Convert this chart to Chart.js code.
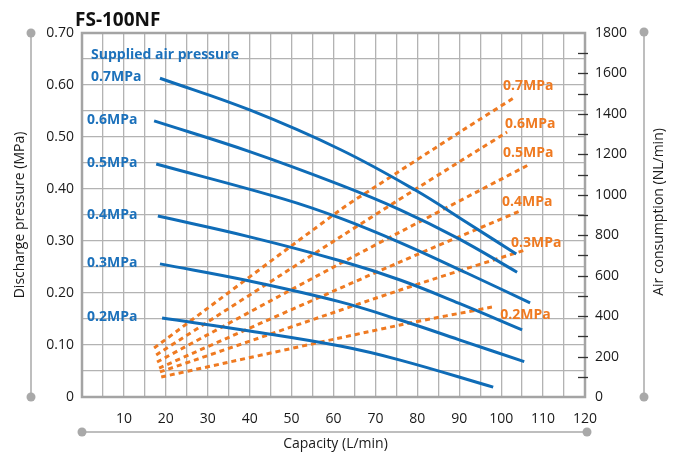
<!DOCTYPE html>
<html>
<head>
<meta charset="utf-8">
<script src="https://cdn.jsdelivr.net/npm/chart.js@4.4.1/dist/chart.umd.min.js"></script>
<style>
  html, body { margin: 0; padding: 0; background: #fff; }
  canvas { display: block; }
</style>
</head>
<body>
<canvas id="chart" width="681" height="458"></canvas>
<script>
const pressureLabels = ['0.7MPa', '0.6MPa', '0.5MPa', '0.4MPa', '0.3MPa', '0.2MPa'];

// discharge pressure curves: capacity (L/min) -> discharge pressure (MPa)
const dischargeCapacity = [
  [18.6, 40, 61.6, 79.5, 91.9, 103.6],
  [17.2, 40, 61.6, 75.9, 89.5, 103.8],
  [17.7, 48, 61.6, 75.9, 91.9, 106.9],
  [18.1, 40, 61.6, 75.9, 90, 105],
  [18.6, 40, 61.6, 75.9, 90, 105.5],
  [19.1, 40, 61.6, 75.9, 98.1]
];
const dischargePressure = [
  [0.613, 0.552, 0.476, 0.398, 0.335, 0.275],
  [0.531, 0.472, 0.408, 0.360, 0.306, 0.240],
  [0.448, 0.381, 0.344, 0.297, 0.238, 0.181],
  [0.348, 0.308, 0.262, 0.225, 0.180, 0.129],
  [0.256, 0.223, 0.183, 0.148, 0.110, 0.068],
  [0.152, 0.127, 0.098, 0.071, 0.019]
];

// air consumption lines: capacity (L/min) -> air consumption (NL/min)
const airCapacity = [
  [17.2, 61.6, 69.5, 90.9, 103.3],
  [17.7, 61.6, 80, 101.4],
  [17.9, 61.6, 106.9],
  [18.4, 75.9, 104.5],
  [18.6, 75.9, 105.7],
  [18.9, 75.9, 97.9]
];
const airConsumption = [
  [242, 925, 1033, 1320, 1483],
  [208, 791, 1033, 1310],
  [173, 660, 1152],
  [143, 668, 920],
  [124, 529, 727],
  [99, 356, 445]
];

const BLUE = '#0f6cb7';
const ORANGE = '#ef7a21';
const GRID = '#b3b3b3';
const DECO = '#a9a9a9';
const FONT = '"Open Sans", "Noto Sans", sans-serif';

const toPoints = (xs, ys) => xs.map((x, i) => ({ x: x, y: ys[i] }));

const datasets = [];
pressureLabels.forEach((label, i) => {
  datasets.push({
    label: 'Discharge ' + label,
    data: toPoints(dischargeCapacity[i], dischargePressure[i]),
    yAxisID: 'y',
    showLine: true,
    borderColor: BLUE,
    borderWidth: 3,
    pointRadius: 0,
    tension: 0.4
  });
});
pressureLabels.forEach((label, i) => {
  datasets.push({
    label: 'Air ' + label,
    data: toPoints(airCapacity[i], airConsumption[i]),
    yAxisID: 'y2',
    showLine: true,
    borderColor: ORANGE,
    borderWidth: 3,
    borderDash: [5, 4],
    pointRadius: 0,
    tension: 0.3
  });
});

function dot(ctx, x, y) {
  ctx.beginPath();
  ctx.arc(x, y, 4.5, 0, Math.PI * 2);
  ctx.fill();
}

const decorPlugin = {
  id: 'decor',
  beforeDatasetsDraw(chart) {
    const { ctx, chartArea: a } = chart;
    ctx.save();
    ctx.strokeStyle = '#a4a4a4';
    ctx.lineWidth = 2.5;
    ctx.strokeRect(a.left, a.top, a.right - a.left, a.bottom - a.top);
    ctx.restore();
  },
  afterDraw(chart) {
    const { ctx, chartArea: a, scales } = chart;
    ctx.save();

    // title
    ctx.fillStyle = '#111';
    ctx.font = 'bold 19px ' + FONT;
    ctx.textAlign = 'left';
    ctx.textBaseline = 'alphabetic';
    ctx.fillText('FS-100NF', a.left - 7, 26);

    // right axis tick marks
    ctx.strokeStyle = '#333';
    ctx.lineWidth = 1.3;
    for (let v = 100; v < 1800; v += 100) {
      const y = Math.round(scales.y2.getPixelForValue(v)) + 0.5;
      ctx.beginPath();
      ctx.moveTo(a.right - 7, y);
      ctx.lineTo(a.right + 3, y);
      ctx.stroke();
    }

    // side / bottom axis rails with dots
    ctx.strokeStyle = DECO;
    ctx.fillStyle = DECO;
    ctx.lineWidth = 1.5;
    const lx = a.left - 51, rx = a.right + 59, by = a.bottom + 35;
    ctx.beginPath();
    ctx.moveTo(lx, a.top); ctx.lineTo(lx, a.bottom);
    ctx.moveTo(rx, a.top); ctx.lineTo(rx, a.bottom);
    ctx.moveTo(a.left, by); ctx.lineTo(a.right + 2, by);
    ctx.stroke();
    dot(ctx, lx, a.top); dot(ctx, lx, a.bottom);
    dot(ctx, rx, a.top - 1); dot(ctx, rx, a.bottom);
    dot(ctx, a.left, by); dot(ctx, a.right + 2, by);

    // axis titles
    ctx.fillStyle = '#1a1a1a';
    ctx.font = '14px ' + FONT;
    ctx.textAlign = 'center';
    ctx.textBaseline = 'middle';
    ctx.fillText('Capacity (L/min)', (a.left + a.right) / 2 + 2, by + 12);
    const midY = (a.top + a.bottom) / 2;
    ctx.save();
    ctx.translate(lx - 11, midY);
    ctx.rotate(-Math.PI / 2);
    ctx.fillText('Discharge pressure (MPa)', 0, 0);
    ctx.restore();
    ctx.save();
    ctx.translate(rx + 15, midY - 3);
    ctx.rotate(-Math.PI / 2);
    ctx.fillText('Air consumption (NL/min)', 0, 0);
    ctx.restore();

    // blue labels at start of each discharge curve
    ctx.font = 'bold 14px ' + FONT;
    ctx.textAlign = 'left';
    ctx.textBaseline = 'alphabetic';
    ctx.fillStyle = '#1c71bb';
    ctx.fillText('Supplied air pressure', a.left + 9, 59);
    pressureLabels.forEach((label, i) => {
      const y = scales.y.getPixelForValue(dischargePressure[i][0]);
      ctx.fillText(label, a.left + (i === 0 ? 9 : 5), y + 3);
    });

    // orange labels near end of each air consumption line
    const endShift = [[-12, -7], [-2, -4], [-27, -7], [-18, -5], [-14, -3], [8, 12]];
    ctx.fillStyle = ORANGE;
    pressureLabels.forEach((label, i) => {
      const n = airCapacity[i].length - 1;
      const x = scales.x.getPixelForValue(airCapacity[i][n]);
      const y = scales.y2.getPixelForValue(airConsumption[i][n]);
      ctx.fillText(label, x + endShift[i][0], y + endShift[i][1]);
    });

    ctx.restore();
  }
};

new Chart(document.getElementById('chart'), {
  type: 'scatter',
  data: { datasets: datasets },
  options: {
    responsive: false,
    animation: false,
    layout: { padding: { top: 33, left: 0, right: 0, bottom: 0 } },
    plugins: { legend: { display: false }, tooltip: { enabled: false } },
    scales: {
      x: {
        type: 'linear',
        min: 0, max: 120,
        afterFit(scale) { scale.height = 61; },
        grid: { color: GRID, lineWidth: 1.3, drawTicks: false },
        border: { display: false },
        ticks: {
          stepSize: 5,
          autoSkip: false,
          maxRotation: 0,
          padding: 14,
          color: '#1a1a1a',
          font: { family: FONT, size: 14 },
          callback: v => (v !== 0 && v % 10 === 0) ? String(v) : ''
        }
      },
      y: {
        position: 'left',
        min: 0, max: 0.7,
        afterFit(scale) { scale.width = 82; },
        grid: { color: GRID, lineWidth: 1.3, drawTicks: false },
        border: { display: false },
        ticks: {
          stepSize: 0.05,
          autoSkip: false,
          padding: 8,
          color: '#1a1a1a',
          font: { family: FONT, size: 14 },
          callback: v => {
            const c = Math.round(v * 100);
            if (c === 0) return '0';
            return c % 10 === 0 ? (c / 100).toFixed(2) : '';
          }
        }
      },
      y2: {
        position: 'right',
        min: 0, max: 1800,
        afterFit(scale) { scale.width = 96; },
        grid: { drawOnChartArea: false, drawTicks: false },
        border: { display: false },
        ticks: {
          stepSize: 100,
          autoSkip: false,
          padding: 10,
          color: '#1a1a1a',
          font: { family: FONT, size: 14 },
          callback: v => (v % 200 === 0) ? String(v) : ''
        }
      }
    }
  },
  plugins: [decorPlugin]
});
</script>
</body>
</html>
